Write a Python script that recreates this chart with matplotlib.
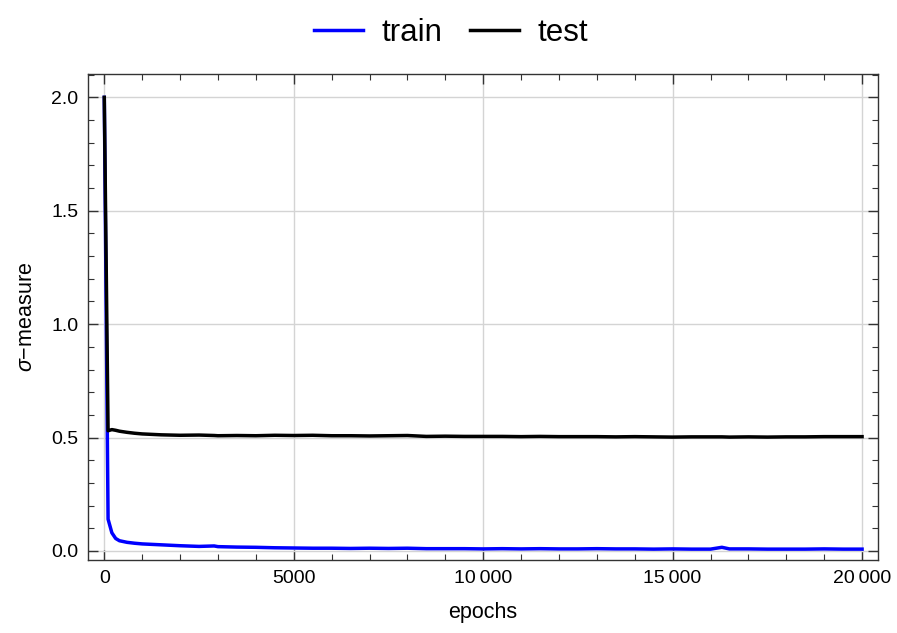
import matplotlib
matplotlib.use("Agg")
import matplotlib.pyplot as plt
from matplotlib.ticker import MultipleLocator

# ── Data ──────────────────────────────────────────────────────────────────────
epochs = [0, 100, 200, 300, 400, 600, 800, 1000, 1500, 2000, 2500, 2900, 3000,
          3500, 4000, 4500, 5000, 5500, 6000, 6500, 7000, 7500, 8000, 8500,
          9000, 9500, 10000, 10500, 11000, 11500, 12000, 12500, 13000, 13500,
          14000, 14500, 15000, 15500, 16000, 16300, 16500, 17000, 17500,
          18000, 18500, 19000, 19500, 20000]

train = [2.0, 0.14, 0.08, 0.055, 0.045, 0.038, 0.034, 0.031, 0.027, 0.023,
         0.020, 0.022, 0.019, 0.017, 0.016, 0.014, 0.013, 0.012, 0.012, 0.011,
         0.012, 0.011, 0.012, 0.010, 0.010, 0.010, 0.009, 0.010, 0.009, 0.010,
         0.009, 0.009, 0.010, 0.009, 0.009, 0.008, 0.009, 0.008, 0.008, 0.016,
         0.009, 0.009, 0.008, 0.008, 0.008, 0.009, 0.008, 0.008]

test = [2.0, 0.530, 0.535, 0.532, 0.528, 0.523, 0.519, 0.516, 0.512, 0.510,
        0.511, 0.509, 0.508, 0.509, 0.508, 0.510, 0.509, 0.510, 0.508, 0.508,
        0.507, 0.508, 0.509, 0.505, 0.506, 0.505, 0.505, 0.505, 0.504, 0.505,
        0.504, 0.504, 0.504, 0.503, 0.504, 0.503, 0.502, 0.503, 0.503, 0.503,
        0.502, 0.503, 0.502, 0.503, 0.503, 0.504, 0.504, 0.504]

plt.rcParams.update({
    "font.family": ["Liberation Sans", "DejaVu Sans"],
    "mathtext.fontset": "custom",
    "mathtext.it": "Liberation Sans:italic",
    "mathtext.rm": "Liberation Sans",
})

fig = plt.figure(figsize=(8.97, 6.33), dpi=100)
ax = fig.add_axes([0.0981, 0.1153, 0.8807, 0.7678])

ax.plot(epochs, train, color="#0000ff", lw=2.5, label="train")
ax.plot(epochs, test, color="black", lw=2.5, label="test")

ax.set_xlim(-430, 20420)
ax.set_ylim(-0.04, 2.103)

ax.xaxis.set_minor_locator(MultipleLocator(1000))
ax.yaxis.set_minor_locator(MultipleLocator(0.1))
ax.set_xticks([0, 5000, 10000, 15000, 20000])
ax.set_xticklabels(["0", "5000", "10\u2009000", "15\u2009000", "20\u2009000"])
ax.set_yticks([0, 0.5, 1.0, 1.5, 2.0])
ax.set_yticklabels(["0.0", "0.5", "1.0", "1.5", "2.0"])

ax.tick_params(which="both", direction="in", top=True, right=True,
               labelsize=14, colors="#333333", labelcolor="black")
ax.tick_params(which="major", length=7, width=1.0, pad=7)
ax.tick_params(which="minor", length=4, width=0.8)
for s in ax.spines.values():
    s.set_color("#333333")
    s.set_linewidth(1.0)

ax.grid(True, which="major", color="#d4d4d4", lw=1.0)
ax.set_axisbelow(True)

ax.set_xlabel("epochs", fontsize=15.5, labelpad=11)
ax.set_ylabel(r"$\sigma$" + "\u2212measure", fontsize=15.5, labelpad=10)

# legend centred on the figure, above the frame
handles, labels = ax.get_legend_handles_labels()
fig.legend(handles, labels, loc="center", bbox_to_anchor=(0.503, 0.948),
           ncol=2, frameon=False, fontsize=22.5, handlelength=1.57,
           handletextpad=0.58, columnspacing=0.9)

plt.savefig("out.png", dpi=100)
